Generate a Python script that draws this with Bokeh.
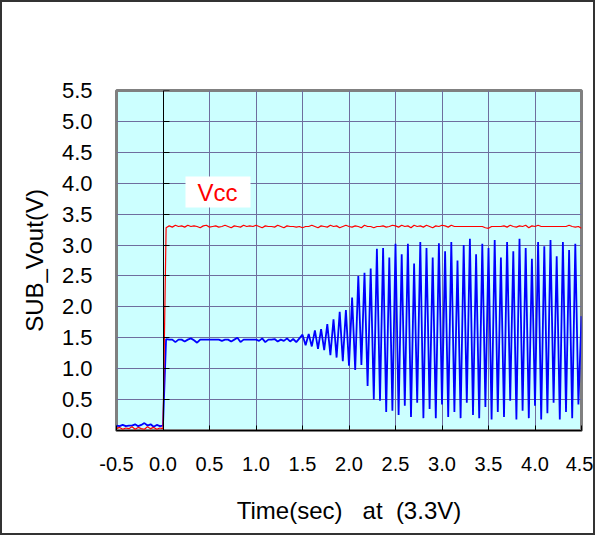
import numpy as np
from bokeh.plotting import figure
from bokeh.models import (LinearAxis, FixedTicker, NumeralTickFormatter, Label,
                          BoxAnnotation, Range1d)
from bokeh.embed import file_html
from bokeh.resources import INLINE

# ---------------- data ----------------
T_START = -0.5          # first sample time (sec)
T_STEP = 1.0 / 30.0     # sample interval (sec)

blue_pre = [0.08, 0.07, 0.09, 0.07, 0.08, 0.08, 0.10, 0.07, 0.09, 0.12, 0.08,
            0.10, 0.06, 0.09, 0.07, 0.08]
blue_flat = [1.48, 1.47, 1.47, 1.43, 1.47, 1.47, 1.44, 1.47, 1.49, 1.46, 1.42,
             1.47, 1.47, 1.47, 1.47, 1.47, 1.47, 1.47, 1.45, 1.47, 1.47, 1.44,
             1.47, 1.50, 1.43, 1.47, 1.47, 1.47, 1.47, 1.47, 1.45, 1.49, 1.43,
             1.47, 1.47, 1.48, 1.44, 1.47, 1.45, 1.49, 1.44, 1.48, 1.43, 1.49]
blue_grow = [1.55, 1.38, 1.56, 1.36, 1.62, 1.32, 1.64, 1.30, 1.72, 1.22,
             1.80, 1.18, 1.92, 1.12, 1.95, 1.05, 2.15, 0.98, 2.50, 1.06,
             2.55, 0.72, 2.62, 0.50, 2.94, 0.48, 2.95, 0.30, 2.80, 0.32,
             3.02, 0.25]
blue_osc = [2.85, 0.40, 3.02, 0.22, 2.70, 0.45, 3.05, 0.20, 2.95, 0.35,
            2.80, 0.20, 3.03, 0.42, 2.90, 0.22, 3.05, 0.30, 2.75, 0.20,
            3.00, 0.45, 3.10, 0.25, 2.85, 0.20, 3.02, 0.38, 2.95, 0.18,
            3.08, 0.30, 2.80, 0.22, 3.05, 0.48, 2.90, 0.18, 3.10, 0.32,
            2.95, 0.20, 2.78, 0.40, 3.05, 0.18, 2.98, 0.28, 3.08, 0.45,
            2.82, 0.18, 3.05, 0.30, 2.92, 0.20, 3.02, 0.42, 1.85]
sub_vout = blue_pre + blue_flat + blue_grow + blue_osc

vcc = [0.03, 0.05, 0.02, 0.04, 0.03, 0.06, 0.02, 0.05, 0.03, 0.02, 0.06,
       0.03, 0.05, 0.02, 0.04, 0.03,
       3.28, 3.31, 3.29, 3.32, 3.30, 3.31, 3.29, 3.32, 3.30, 3.31, 3.30, 3.28,
       3.31, 3.32, 3.29, 3.30, 3.31, 3.29, 3.30, 3.32, 3.30, 3.28, 3.31, 3.30,
       3.29, 3.32, 3.30, 3.31, 3.30, 3.32,
       3.30, 3.28, 3.31, 3.30, 3.30, 3.29, 3.32, 3.30, 3.28, 3.31, 3.30, 3.30,
       3.29, 3.30, 3.28, 3.30, 3.30, 3.32, 3.30, 3.28, 3.31, 3.30, 3.29, 3.32,
       3.30, 3.31, 3.28, 3.30, 3.32, 3.30,
       3.29, 3.31, 3.30, 3.28, 3.32, 3.30, 3.30, 3.28, 3.30, 3.30, 3.31, 3.29,
       3.30, 3.32, 3.31, 3.29, 3.32, 3.30, 3.31, 3.28, 3.32, 3.30, 3.31, 3.29,
       3.32, 3.30, 3.28, 3.31, 3.30, 3.32,
       3.31, 3.29, 3.32, 3.30, 3.30, 3.30, 3.30, 3.30, 3.30, 3.30, 3.30, 3.30,
       3.30, 3.28, 3.27, 3.30, 3.30, 3.30, 3.30, 3.31, 3.29, 3.32, 3.30, 3.29,
       3.31, 3.30, 3.32, 3.28, 3.31, 3.30,
       3.32, 3.30, 3.30, 3.30, 3.30, 3.30, 3.30, 3.30, 3.30, 3.30, 3.32, 3.30,
       3.29, 3.30, 3.27]

assert len(sub_vout) == len(vcc), (len(sub_vout), len(vcc))

x_ticks = [-0.5, 0.0, 0.5, 1.0, 1.5, 2.0, 2.5, 3.0, 3.5, 4.0, 4.5]
y_ticks = [0.0, 0.5, 1.0, 1.5, 2.0, 2.5, 3.0, 3.5, 4.0, 4.5, 5.0, 5.5]

title_line1 = "Start up time of SUB_Vout"
title_line2 = "MODEL : SSP-T7 12.5pF with MB89F538"
x_title = "Time(sec)\u00a0\u00a0 at\u00a0 (3.3V)"
y_title = "SUB_Vout(V)"
series_label = "Vcc"

time = T_START + T_STEP * np.arange(len(sub_vout))

# ---------------- figure ----------------
FONT = "Liberation Sans"

p = figure(width=595, height=535,
           x_range=Range1d(x_ticks[0], x_ticks[-1]),
           y_range=Range1d(y_ticks[0], y_ticks[-1]),
           output_backend="svg", toolbar_location=None,
           min_border_left=114, min_border_right=16,
           min_border_top=88, min_border_bottom=107,
           background_fill_color="#CCFFFF", border_fill_color="white")
p.styles = {"border": "2px solid #333333"}

p.outline_line_color = "#808080"
p.outline_line_width = 3

p.xgrid.ticker = FixedTicker(ticks=x_ticks)
p.ygrid.ticker = FixedTicker(ticks=y_ticks)
p.grid.grid_line_color = "#6e6e9e"
p.grid.grid_line_width = 1

xa = p.xaxis[0]
xa.ticker = FixedTicker(ticks=x_ticks)
xa.formatter = NumeralTickFormatter(format="0.0")
xa.major_label_text_font = FONT
xa.major_label_text_font_size = "20px"
xa.major_label_text_color = "black"
xa.axis_line_color = "black"
xa.major_tick_line_color = "black"
xa.major_tick_in = 5
xa.major_tick_out = 0
xa.minor_tick_line_color = None
xa.major_label_standoff = 26
xa.axis_label = x_title
xa.axis_label_text_font = FONT
xa.axis_label_text_font_size = "24px"
xa.axis_label_text_font_style = "normal"
xa.axis_label_text_color = "black"
xa.axis_label_standoff = 23

ya = p.yaxis[0]
ya.ticker = FixedTicker(ticks=y_ticks)
ya.formatter = NumeralTickFormatter(format="0.0")
ya.major_label_text_font = FONT
ya.major_label_text_font_size = "22px"
ya.major_label_text_color = "black"
ya.axis_line_color = None
ya.major_tick_line_color = None
ya.minor_tick_line_color = None
ya.major_label_standoff = 18
ya.axis_label = y_title
ya.axis_label_text_font = FONT
ya.axis_label_text_font_size = "24px"
ya.axis_label_text_font_style = "normal"
ya.axis_label_text_color = "black"
ya.axis_label_standoff = 11

# axis line crossing at x = 0 with inward ticks (no labels drawn)
ya0 = LinearAxis(fixed_location=0, ticker=FixedTicker(ticks=y_ticks),
                 major_tick_in=6, major_tick_out=0,
                 minor_tick_line_color=None,
                 major_label_text_color=None, major_label_text_font_size="2px",
                 major_label_standoff=0,
                 axis_line_color="black", major_tick_line_color="black")
p.add_layout(ya0, "left")

# traces
p.line(time, sub_vout, line_color="#0000FF", line_width=1.8)
p.line(time, vcc, line_color="#FF0000", line_width=1.2)

# Vcc legend box
p.add_layout(BoxAnnotation(left=69, right=134, bottom=223, top=254,
                           left_units="screen", right_units="screen",
                           bottom_units="screen", top_units="screen",
                           fill_color="white", fill_alpha=1.0,
                           line_color=None))
p.add_layout(Label(x=101, y=238, x_units="screen", y_units="screen",
                   text=series_label, text_color="#FF0000",
                   text_font=FONT, text_font_size="24px",
                   text_align="center", text_baseline="middle"))

# two-line chart title
p.add_layout(Label(x=177, y=405, x_units="screen", y_units="screen",
                   text=title_line1, text_color="black", text_font=FONT,
                   text_font_size="24px", text_align="center",
                   text_baseline="middle"))
p.add_layout(Label(x=177, y=373, x_units="screen", y_units="screen",
                   text=title_line2, text_color="black", text_font=FONT,
                   text_font_size="24px", text_align="center",
                   text_baseline="middle"))

open("out.html", "w").write(file_html(p, INLINE))
